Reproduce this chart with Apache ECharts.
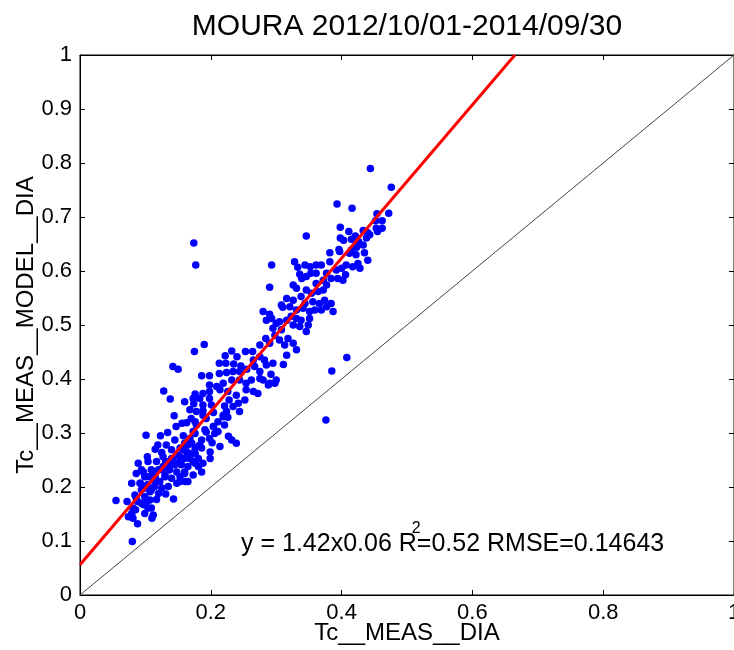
<!DOCTYPE html>
<html>
<head>
<meta charset="utf-8">
<script src="https://cdn.jsdelivr.net/npm/echarts@6/dist/echarts.min.js"></script>
<style>html,body{margin:0;padding:0;background:#fff;overflow:hidden}#c{width:734px;height:650px}</style>
</head>
<body>
<div id="c"></div>
<script>
// ---- data (Tc__MEAS__DIA, Tc__MEAS__MODEL__DIA) ----
var lowerCluster = [
[0.101,0.296],[0.123,0.295],[0.134,0.301],[0.147,0.312],[0.156,0.318],[0.163,0.319],[0.176,0.321],[0.158,0.295],
[0.168,0.290],[0.176,0.299],[0.191,0.306],[0.204,0.312],[0.211,0.303],[0.221,0.315],[0.227,0.294],[0.232,0.287],
[0.202,0.282],[0.186,0.287],[0.171,0.281],[0.160,0.281],[0.145,0.287],[0.132,0.278],[0.119,0.278],[0.115,0.270],
[0.125,0.264],[0.140,0.269],[0.153,0.272],[0.163,0.265],[0.176,0.262],[0.186,0.272],[0.199,0.265],[0.214,0.275],
[0.181,0.253],[0.168,0.253],[0.153,0.256],[0.140,0.253],[0.127,0.256],[0.103,0.256],[0.104,0.247],[0.117,0.247],
[0.131,0.247],[0.144,0.244],[0.155,0.241],[0.165,0.238],[0.176,0.244],[0.188,0.244],[0.199,0.253],[0.089,0.244],
[0.094,0.232],[0.109,0.232],[0.125,0.232],[0.136,0.232],[0.148,0.228],[0.160,0.225],[0.173,0.222],[0.186,0.228],
[0.086,0.225],[0.099,0.219],[0.115,0.219],[0.130,0.219],[0.140,0.216],[0.153,0.210],[0.161,0.210],[0.079,0.207],
[0.092,0.207],[0.103,0.204],[0.117,0.210],[0.125,0.198],[0.135,0.201],[0.094,0.195],[0.109,0.195],[0.120,0.188],
[0.099,0.182],[0.084,0.185],[0.107,0.176],[0.117,0.177],[0.131,0.187],[0.143,0.178],[0.055,0.175],[0.072,0.173],
[0.088,0.173],[0.097,0.167],[0.085,0.158],[0.104,0.161],[0.079,0.151],[0.074,0.145],[0.081,0.142],[0.112,0.148],
[0.099,0.151],[0.110,0.142],[0.088,0.132],[0.080,0.099]
];
var denseBand = [
[0.097,0.228],[0.104,0.219],[0.112,0.213],[0.092,0.207],[0.099,0.198],[0.107,0.191],[0.114,0.201],[0.122,0.210],
[0.130,0.222],[0.137,0.232],[0.145,0.241],[0.153,0.247],[0.160,0.253],[0.168,0.262],[0.176,0.272],[0.183,0.278],
[0.165,0.278],[0.158,0.269],[0.150,0.259],[0.142,0.250],[0.135,0.244],[0.127,0.238],[0.120,0.232],[0.112,0.225],
[0.173,0.247],[0.181,0.238],[0.160,0.228],[0.153,0.219],[0.165,0.210],[0.148,0.207],[0.086,0.179],[0.094,0.170],
[0.102,0.173],[0.081,0.161],[0.079,0.148],[0.109,0.161],[0.193,0.302],[0.204,0.312],[0.211,0.321],[0.219,0.330],
[0.224,0.340],[0.198,0.290],[0.206,0.299],[0.178,0.315],[0.188,0.333],[0.173,0.303]
];
var middleCluster = [
[0.190,0.464],[0.175,0.451],[0.222,0.443],[0.232,0.452],[0.240,0.441],[0.253,0.451],[0.264,0.451],[0.275,0.463],
[0.284,0.475],[0.290,0.466],[0.298,0.481],[0.305,0.472],[0.313,0.463],[0.318,0.475],[0.326,0.466],[0.316,0.444],
[0.331,0.454],[0.213,0.429],[0.223,0.429],[0.235,0.428],[0.246,0.424],[0.265,0.435],[0.275,0.441],[0.282,0.435],
[0.285,0.426],[0.295,0.429],[0.311,0.427],[0.142,0.423],[0.150,0.418],[0.186,0.406],[0.198,0.406],[0.213,0.410],
[0.224,0.412],[0.234,0.414],[0.244,0.414],[0.255,0.418],[0.267,0.423],[0.275,0.414],[0.292,0.409],[0.300,0.398],
[0.298,0.392],[0.198,0.389],[0.209,0.386],[0.219,0.392],[0.232,0.398],[0.244,0.398],[0.254,0.392],[0.262,0.398],
[0.275,0.401],[0.280,0.398],[0.290,0.392],[0.128,0.378],[0.198,0.377],[0.214,0.380],[0.226,0.377],[0.239,0.370],
[0.254,0.380],[0.265,0.377],[0.272,0.373],[0.288,0.389],[0.176,0.372],[0.188,0.373],[0.173,0.364],[0.183,0.364],
[0.198,0.364],[0.228,0.361],[0.242,0.355],[0.252,0.361],[0.138,0.363],[0.160,0.358],[0.174,0.354],[0.188,0.352],
[0.201,0.352],[0.221,0.350],[0.234,0.349],[0.168,0.343],[0.178,0.340],[0.188,0.341],[0.204,0.338],[0.219,0.333],
[0.226,0.329],[0.244,0.340],[0.144,0.332],[0.170,0.327],[0.193,0.327],[0.239,0.281]
];
var upperCluster = [
[0.382,0.634],[0.397,0.636],[0.412,0.633],[0.422,0.630],[0.435,0.634],[0.440,0.620],[0.425,0.614],[0.428,0.605],
[0.417,0.608],[0.407,0.611],[0.400,0.605],[0.392,0.602],[0.406,0.593],[0.382,0.617],[0.369,0.611],[0.361,0.611],
[0.352,0.608],[0.344,0.611],[0.333,0.607],[0.328,0.617],[0.293,0.611],[0.353,0.596],[0.336,0.594],[0.339,0.586],
[0.346,0.590],[0.361,0.596],[0.377,0.596],[0.372,0.583],[0.384,0.586],[0.394,0.586],[0.402,0.583],[0.361,0.577],
[0.377,0.574],[0.326,0.574],[0.331,0.568],[0.290,0.570],[0.346,0.565],[0.354,0.559],[0.364,0.562],[0.372,0.565],
[0.338,0.553],[0.316,0.549],[0.326,0.546],[0.344,0.540],[0.356,0.543],[0.366,0.540],[0.374,0.546],[0.377,0.534],
[0.384,0.540],[0.359,0.528],[0.369,0.528],[0.387,0.525],[0.308,0.537],[0.310,0.533],[0.321,0.534],[0.331,0.528],
[0.341,0.531],[0.351,0.525],[0.280,0.525],[0.290,0.520],[0.285,0.509],[0.293,0.512],[0.300,0.503],[0.305,0.506],
[0.316,0.509],[0.323,0.516],[0.331,0.512],[0.351,0.512],[0.338,0.509],[0.349,0.500],[0.326,0.500],[0.336,0.497],
[0.295,0.494],[0.308,0.491],[0.346,0.488]
];
var topCluster = [
[0.444,0.790],[0.476,0.755],[0.393,0.724],[0.416,0.716],[0.472,0.707],[0.454,0.706],[0.452,0.693],[0.462,0.693],
[0.398,0.681],[0.411,0.673],[0.433,0.675],[0.440,0.671],[0.453,0.679],[0.462,0.679],[0.455,0.673],[0.398,0.661],
[0.415,0.659],[0.421,0.665],[0.426,0.654],[0.438,0.661],[0.443,0.667],[0.433,0.648],[0.423,0.644],[0.415,0.639],
[0.396,0.640],[0.403,0.657],[0.346,0.665]
];
var outliers = [[0.174,0.652],[0.177,0.611],[0.408,0.440],[0.385,0.415],[0.376,0.324]];
var fitLineX = [0, 0.665];
var fitLineY = [0.056, 1];
var identityX = [0, 1];
var identityY = [0, 1];
var titleText = 'MOURA 2012/10/01-2014/09/30';
var xName = 'Tc__MEAS__DIA';
var yName = 'Tc__MEAS__MODEL__DIA';
var statsBefore = 'y = 1.42x0.06 R';
var statsAfter = '=0.52 RMSE=0.14643';
var statsSup = '2';

var allPoints = [].concat(lowerCluster, denseBand, middleCluster, upperCluster, topCluster, outliers);
function pairs(xs, ys){ return xs.map(function(x,i){ return [x, ys[i]]; }); }

var FONT = 'Liberation Sans, Arial, sans-serif';
var STATS_FONT = '25px ' + FONT;
var mctx = document.createElement('canvas').getContext('2d');
mctx.font = STATS_FONT;
var beforeW = mctx.measureText(statsBefore).width;

var chart = echarts.init(document.getElementById('c'), null, {renderer:'canvas'});
var axisCommon = {
  min: 0, max: 1,
  axisLine: {show: true, onZero: false, lineStyle: {color: '#000', width: 1}},
  axisTick: {show: true, inside: true, length: 5, lineStyle: {color: '#000'}},
  splitLine: {show: false},
  axisLabel: {color: '#000', fontFamily: FONT, fontSize: 22},
  nameTextStyle: {color: '#000', fontFamily: FONT, fontSize: 24},
  nameMoveOverlap: false
};
chart.setOption({
  animation: false,
  backgroundColor: '#fff',
  title: {
    text: titleText, left: 402, top: 7, textAlign: 'center',
    textStyle: {color: '#000', fontFamily: FONT, fontSize: 30, fontWeight: 'normal'}
  },
  grid: {left: 80, top: 55, right: 0, bottom: 55, show: true, borderColor: '#000', borderWidth: 1,
         containLabel: false, outerBoundsMode: 'none'},
  xAxis: [
    Object.assign({}, axisCommon, {type: 'value', position: 'bottom', interval: 0.2,
      name: xName, nameLocation: 'middle', nameGap: 26,
      axisLabel: Object.assign({}, axisCommon.axisLabel, {margin: 7, formatter: function(v){ return String(+v.toFixed(1)); }})}),
    Object.assign({}, axisCommon, {type: 'value', position: 'top', interval: 0.2, axisLabel: {show: false}})
  ],
  yAxis: [
    Object.assign({}, axisCommon, {type: 'value', position: 'left', interval: 0.1,
      name: yName, nameLocation: 'middle', nameGap: 42, nameRotate: 90,
      axisLabel: Object.assign({}, axisCommon.axisLabel, {margin: 8, formatter: function(v){ return String(+v.toFixed(1)); }})}),
    Object.assign({}, axisCommon, {type: 'value', position: 'right', interval: 0.1, axisLabel: {show: false}})
  ],
  series: [
    {type: 'line', data: pairs(identityX, identityY), showSymbol: false, symbol: 'none',
     lineStyle: {color: '#444', width: 1}, z: 1, silent: true},
    {type: 'scatter', data: allPoints, symbol: 'circle', symbolSize: 7.5,
     itemStyle: {color: '#0000ff', opacity: 1}, z: 2},
    {type: 'line', data: pairs(fitLineX, fitLineY), showSymbol: false, symbol: 'none',
     lineStyle: {color: '#ff0000', width: 3}, z: 3, silent: true, clip: true}
  ],
  graphic: [
    {type: 'text', left: 241, top: 532, z: 10,
     style: {text: statsBefore + statsAfter, fill: '#000', font: STATS_FONT}},
    {type: 'text', left: 241 + beforeW - 5, top: 521, z: 10,
     style: {text: statsSup, fill: '#000', font: '16px ' + FONT}}
  ]
});
</script>
</body>
</html>
